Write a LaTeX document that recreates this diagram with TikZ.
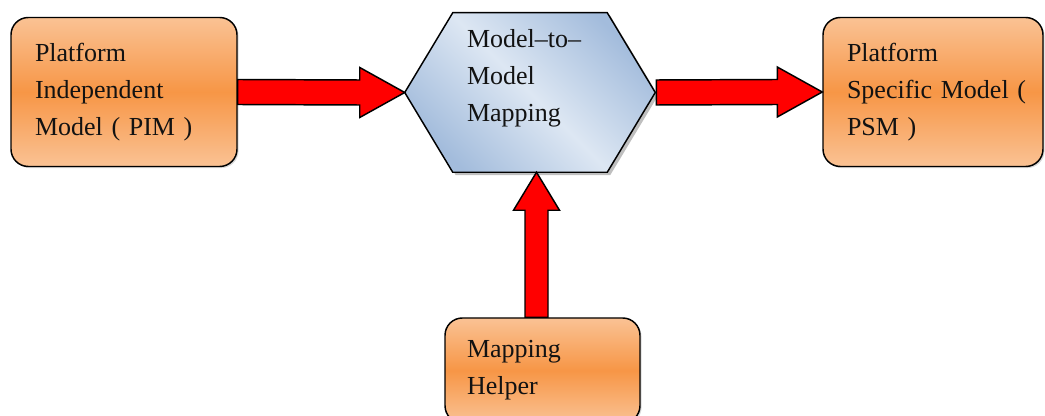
\documentclass[tikz,border=0pt]{standalone}
\usepackage{fontspec}
\setmainfont{Liberation Serif}
\usetikzlibrary{calc,shadows}
\pgfdeclarelayer{background}
\pgfsetlayers{background,main}
\definecolor{orangeL}{HTML}{FAC294}
\definecolor{orangeD}{HTML}{F79646}
\definecolor{blueD}{HTML}{A3BCDC}
\definecolor{blueL}{HTML}{DDE7F3}
\definecolor{txt}{HTML}{121212}
\begin{document}
\begin{tikzpicture}[x=0.75pt,y=-0.75pt,
  every node/.style={font=\fontsize{19.5pt}{27.75pt}\selectfont, text=txt},
  box/.style={draw=black, line width=1.1pt, rounded corners=13pt,
    top color=orangeL, bottom color=orangeL, middle color=orangeD,
    align=left, inner xsep=0pt, inner ysep=0pt,
    drop shadow={shadow xshift=1.2pt, shadow yshift=-1.2pt, opacity=0.3}},
  hexframe/.style={inner sep=0pt, minimum width=250*0.75pt, minimum height=159*0.75pt},
  hexfill/.style={draw=black, line width=1.1pt, line join=miter,
    left color=blueD, right color=blueD, middle color=blueL, shading angle=135,
    drop shadow={shadow xshift=2.2pt, shadow yshift=-2.2pt, fill=black!50, opacity=0.5}},
  hextext/.style={align=left, text width=126*0.75pt, inner sep=0pt},
  bigarrow/.style={fill=red, draw=black, line width=1.1pt, line join=miter}
]
\useasboundingbox (0,0) rectangle (1045,416);

% nodes
\node[box, minimum width=226*0.75pt, minimum height=149*0.75pt, text width=178*0.75pt]
  (pim) at (124,92) {Platform\\Independent\\Model ( PIM )};
\node[box, minimum width=220*0.75pt, minimum height=149*0.75pt, text width=172*0.75pt]
  (psm) at (933,92) {Platform\\\mbox{Specific Model (}\\PSM )};
\node[box, minimum width=195*0.75pt, minimum height=105*0.75pt, text width=151*0.75pt]
  (helper) at (542.5,370.5) {Mapping\\Helper};
\node[hexframe] (m2m) at (530,92.5) {};
\node[hextext] (m2mt) at (530,78.5) {Model–to–\\Model\\Mapping};

\begin{pgfonlayer}{background}
\path[hexfill] (m2m.west) -- ($(m2m.north west)+(48,0)$) -- ($(m2m.north east)+(-48,0)$)
  -- (m2m.east) -- ($(m2m.south east)+(-48,0)$) -- ($(m2m.south west)+(48,0)$) -- cycle;
\end{pgfonlayer}

% arrows
\draw[bigarrow] ($(pim.east)+(0,-12.5)$) -- ($(m2m.west)+(-45,-12.5)$) -- ($(m2m.west)+(-45,-25)$)
  -- (m2m.west) -- ($(m2m.west)+(-45,25)$) -- ($(m2m.west)+(-45,12.5)$) -- ($(pim.east)+(0,12.5)$) -- cycle;
\draw[bigarrow] ($(m2m.east)+(1,-12.5)$) -- ($(psm.west)+(-45,-12.5)$) -- ($(psm.west)+(-45,-25)$)
  -- (psm.west) -- ($(psm.west)+(-45,25)$) -- ($(psm.west)+(-45,12.5)$) -- ($(m2m.east)+(1,12.5)$) -- cycle;
\coordinate (ha) at ($(helper.north)+(-6,0)$);
\coordinate (tip) at (ha |- m2m.south);
\draw[bigarrow] ($(ha)+(-11.5,0)$) -- ($(tip)+(-11.5,38)$) -- ($(tip)+(-23,38)$) -- (tip)
  -- ($(tip)+(23,38)$) -- ($(tip)+(11.5,38)$) -- ($(ha)+(11.5,0)$) -- cycle;
\end{tikzpicture}
\end{document}
